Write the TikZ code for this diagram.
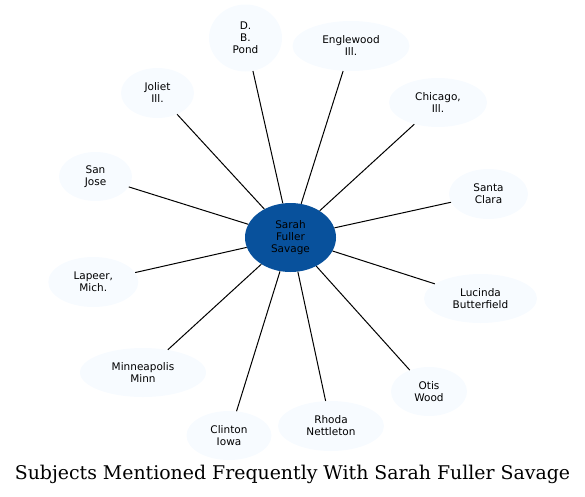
\documentclass[tikz,border=0pt]{standalone}
\usepackage{fontspec}
\setmainfont{DejaVu Sans}
\newfontfamily\titlefont{DejaVu Serif}
\usetikzlibrary{shapes.geometric}
\definecolor{leaf}{HTML}{F7FBFF}
\definecolor{hub}{HTML}{08519C}
\tikzset{
  bubble/.style 2 args={ellipse, fill=leaf, draw=none, inner sep=0pt,
    minimum width=#1pt, minimum height=#2pt, align=center,
    font=\fontsize{10.5}{12}\selectfont},
  hubnode/.style={ellipse, fill=hub, draw=none, inner sep=0pt,
    minimum width=91pt, minimum height=69pt, align=center,
    font=\fontsize{10.5}{12}\selectfont},
  link/.style={line width=1pt, black},
}
\begin{document}
\begin{tikzpicture}[x=1pt,y=-1pt]
\useasboundingbox (0,0) rectangle (585,496);
\node[hubnode] (c) at (290.5,237.5) {Sarah\\Fuller\\Savage};
\node[bubble={73}{67}] (pond) at (245.5,38) {D.\\B.\\Pond};
\node[bubble={117}{50}] (eng) at (351,46) {Englewood\\Ill.};
\node[bubble={98}{49}] (chi) at (438,102.5) {Chicago,\\Ill.};
\node[bubble={73}{50}] (jol) at (157.5,93) {Joliet\\Ill.};
\node[bubble={73}{49}] (sj) at (95.5,176.5) {San\\Jose};
\node[bubble={79}{50}] (sc) at (488.5,194) {Santa\\Clara};
\node[bubble={90}{50}] (lap) at (93.3,282) {Lapeer,\\Mich.};
\node[bubble={113}{49}] (luc) at (480.5,298.5) {Lucinda\\Butterfield};
\node[bubble={126}{49}] (min) at (143,372.5) {Minneapolis\\Minn};
\node[bubble={76}{49}] (otis) at (429,391.5) {Otis\\Wood};
\node[bubble={85}{49}] (cli) at (229,435.5) {Clinton\\Iowa};
\node[bubble={106}{50}] (rho) at (331,426) {Rhoda\\Nettleton};
\foreach \n in {pond,eng,chi,jol,sj,sc,lap,luc,min,otis,cli,rho}
  \draw[link] (c) -- (\n);
\node[font=\titlefont\fontsize{18.9}{22}\selectfont, anchor=base, inner sep=0pt] (title) at (292.5,479.5) {Subjects Mentioned Frequently With Sarah Fuller Savage};
\end{tikzpicture}
\end{document}
